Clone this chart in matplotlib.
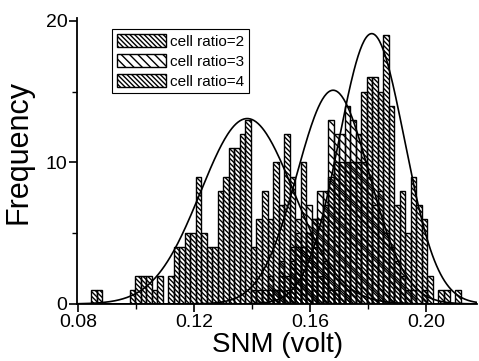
import numpy as np
import matplotlib
matplotlib.use('Agg')
import matplotlib.pyplot as plt
import matplotlib.ticker as ticker

# Histogram counts per bin (bins start at 0.0845 V, 0.0019 V wide)
bin_start = 0.0845
bin_width = 0.0019
counts_ratio2 = [1, 1, 0, 0, 0, 0, 0, 1, 2, 2,
                 2, 1, 2, 0, 2, 4, 4, 5, 5, 9,
                 5, 4, 4, 8, 9, 11, 11, 12, 13, 4,
                 6, 8, 6, 10, 7, 12, 9, 6, 10, 5,
                 4, 2, 3, 1, 1, 0, 1, 0, 0, 0,
                 0, 0, 0, 0, 0, 0, 0, 0, 0, 0,
                 0, 0, 0, 0, 0, 0, 0, 0]
counts_ratio3 = [0, 0, 0, 0, 0, 0, 0, 0, 0, 0,
                 0, 0, 0, 0, 0, 0, 0, 0, 0, 0,
                 0, 0, 0, 0, 0, 0, 0, 0, 0, 0,
                 1, 0, 2, 1, 3, 2, 4, 5, 4, 7,
                 6, 8, 8, 13, 12, 12, 14, 13, 12, 10,
                 9, 7, 8, 5, 4, 3, 2, 1, 1, 0,
                 1, 0, 0, 0, 0, 0, 0, 0]
counts_ratio4 = [0, 0, 0, 0, 0, 0, 0, 0, 0, 0,
                 0, 0, 0, 0, 0, 0, 0, 0, 0, 0,
                 0, 0, 0, 0, 0, 0, 0, 0, 0, 1,
                 0, 1, 1, 1, 2, 1, 3, 4, 4, 5,
                 6, 6, 7, 9, 10, 10, 10, 10, 10, 15,
                 16, 16, 15, 19, 14, 7, 8, 5, 9, 7,
                 6, 2, 0, 1, 1, 0, 1, 0]

# Gaussian fit parameters
fit_amp = [13.1, 15.1, 19.1]
fit_mean = [0.1383, 0.1679, 0.1812]
fit_sigma = [0.016, 0.0125, 0.0113]

labels = ['cell ratio=2', 'cell ratio=3', 'cell ratio=4']
hatches = ['\\\\\\\\\\\\\\', '\\\\\\\\', '\\\\\\\\\\\\\\']

plt.rcParams['font.family'] = ['Liberation Sans', 'DejaVu Sans']
plt.rcParams['hatch.linewidth'] = 1.0

fig = plt.figure(figsize=(4.79, 3.61), dpi=100)
ax = fig.add_axes([0.161, 0.158, 0.835, 0.792])

edges = bin_start + bin_width * np.arange(len(counts_ratio2))
for counts, label, hatch in zip([counts_ratio2, counts_ratio3, counts_ratio4], labels, hatches):
    ax.bar(edges, counts, width=bin_width, align='edge', facecolor='none',
           edgecolor='black', linewidth=1.0, hatch=hatch, label=label)

xs = np.linspace(0.08, 0.22, 400)
for a, m, s in zip(fit_amp, fit_mean, fit_sigma):
    ax.plot(xs, a * np.exp(-(xs - m) ** 2 / (2 * s ** 2)), color='black', linewidth=1.2)

ax.set_xlim(0.0797, 0.2175)
ax.set_ylim(0, 20.2)
ax.xaxis.set_major_locator(ticker.FixedLocator([0.08, 0.12, 0.16, 0.20]))
ax.xaxis.set_minor_locator(ticker.FixedLocator([0.10, 0.14, 0.18]))
ax.xaxis.set_major_formatter(ticker.FormatStrFormatter('%.2f'))
ax.yaxis.set_major_locator(ticker.MultipleLocator(10))
ax.yaxis.set_minor_locator(ticker.MultipleLocator(5))
ax.tick_params(which='major', direction='out', length=6, width=1.2, labelsize=14, pad=1)
ax.tick_params(which='minor', direction='out', length=3.5, width=1.0)
for side in ['top', 'right']:
    ax.spines[side].set_visible(False)
for side in ['left', 'bottom']:
    ax.spines[side].set_linewidth(1.3)

ax.set_xlabel('SNM (volt)', fontsize=20, labelpad=1)
ax.set_ylabel('Frequency', fontsize=22)
ax.yaxis.set_label_coords(-0.11, 0.53)

leg = ax.legend(loc='upper left', bbox_to_anchor=(0.088, 0.96), fontsize=11,
                frameon=True, fancybox=False, edgecolor='black', framealpha=1,
                handlelength=3.2, handleheight=0.9, handletextpad=0.3,
                labelspacing=0.35, borderpad=0.3, borderaxespad=0)
leg.get_frame().set_linewidth(0.8)

fig.savefig('out.png', dpi=100)
